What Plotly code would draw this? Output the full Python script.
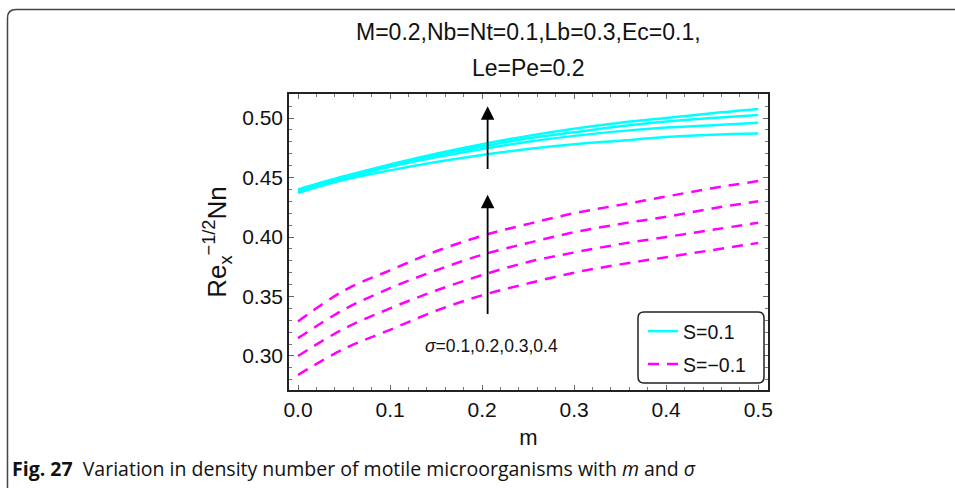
import plotly.graph_objects as go

# ---------------- data ----------------
m_values = [0.0, 0.05, 0.1, 0.15, 0.2, 0.25, 0.3, 0.35, 0.4, 0.45, 0.5]

# S = 0.1 (solid cyan), sigma = 0.1 .. 0.4
s_pos_sigma01 = [0.437, 0.448, 0.456, 0.463, 0.469, 0.474, 0.478, 0.481, 0.484, 0.486, 0.487]
s_pos_sigma02 = [0.438, 0.449, 0.459, 0.467, 0.474, 0.480, 0.485, 0.489, 0.492, 0.494, 0.496]
s_pos_sigma03 = [0.439, 0.450, 0.460, 0.469, 0.476, 0.483, 0.488, 0.493, 0.497, 0.500, 0.5025]
s_pos_sigma04 = [0.440, 0.451, 0.461, 0.470, 0.478, 0.485, 0.491, 0.496, 0.500, 0.504, 0.5075]

# S = -0.1 (dashed magenta), sigma = 0.1 .. 0.4
s_neg_sigma01 = [0.284, 0.306, 0.322, 0.338, 0.351, 0.361, 0.370, 0.377, 0.383, 0.389, 0.395]
s_neg_sigma02 = [0.300, 0.323, 0.340, 0.355, 0.368, 0.379, 0.387, 0.394, 0.400, 0.406, 0.412]
s_neg_sigma03 = [0.315, 0.339, 0.357, 0.372, 0.385, 0.395, 0.404, 0.411, 0.417, 0.424, 0.430]
s_neg_sigma04 = [0.329, 0.355, 0.372, 0.388, 0.401, 0.411, 0.420, 0.427, 0.434, 0.441, 0.447]

x_ticks = [0.0, 0.1, 0.2, 0.3, 0.4, 0.5]
y_ticks = [0.30, 0.35, 0.40, 0.45, 0.50]

series_pos = [s_pos_sigma01, s_pos_sigma02, s_pos_sigma03, s_pos_sigma04]
series_neg = [s_neg_sigma01, s_neg_sigma02, s_neg_sigma03, s_neg_sigma04]

# arrows (data coordinates) and label
arrow_m = 0.206
arrow_pos_from, arrow_pos_to = 0.456, 0.510
arrow_neg_from, arrow_neg_to = 0.334, 0.4355
sigma_label_pos = (0.2105, 0.308)

# ---------------- layout geometry ----------------
W, H = 955, 488
L, R, T, B = 289, 187, 94, 98
PW, PH = W - L - R, H - T - B

def px(x):
    return (x - L) / PW

def py(y):
    return (H - B - y) / PH

FONT = "Liberation Sans, Arial, sans-serif"
CYAN = "#00FFFF"
MAGENTA = "#FF00FF"

fig = go.Figure()

for i, ys in enumerate(series_pos):
    fig.add_trace(go.Scatter(
        x=m_values, y=ys, mode="lines", line=dict(color=CYAN, width=2.5, shape="spline"),
        name="S=0.1", legendgroup="pos", showlegend=(i == 0)))
for i, ys in enumerate(series_neg):
    fig.add_trace(go.Scatter(
        x=m_values, y=ys, mode="lines",
        line=dict(color=MAGENTA, width=2.5, shape="spline", dash="11px,8px"),
        name="S=\u22120.1", legendgroup="neg", showlegend=(i == 0)))

axis_common = dict(
    showline=True, linecolor="#222", linewidth=1.5, mirror="allticks",
    ticks="inside", ticklen=5, tickcolor="#666", tickwidth=1,
    showgrid=False, zeroline=False,
    tickfont=dict(family=FONT, size=21, color="#111"),
)

fig.update_xaxes(
    range=[-0.0098, 0.5106], tickvals=x_ticks, tickformat=".1f",
    minor=dict(dtick=0.02, tick0=0, ticks="inside", ticklen=3, tickcolor="#777"),
    title=dict(text="m", font=dict(family=FONT, size=22, color="#111"), standoff=10),
    **axis_common)
fig.update_yaxes(
    range=[0.2714, 0.5202], tickvals=y_ticks, tickformat=".2f",
    minor=dict(dtick=0.01, tick0=0, ticks="inside", ticklen=3, tickcolor="#777"),
    title=dict(text="Re<sub>x</sub><sup>\u22121/2</sup>Nn",
               font=dict(family=FONT, size=26, color="#111"), standoff=8),
    **axis_common)

annotations = [
    dict(text="M=0.2,Nb=Nt=0.1,Lb=0.3,Ec=0.1,", xref="paper", yref="paper",
         x=0.5, y=py(32), xanchor="center", yanchor="middle", showarrow=False,
         font=dict(family=FONT, size=23, color="#111")),
    dict(text="Le=Pe=0.2", xref="paper", yref="paper",
         x=0.5, y=py(68), xanchor="center", yanchor="middle", showarrow=False,
         font=dict(family=FONT, size=23, color="#111")),
    dict(x=arrow_m, y=arrow_pos_to, ax=arrow_m, ay=arrow_pos_from, xref="x", yref="y",
         axref="x", ayref="y", text="", showarrow=True, arrowhead=2, arrowsize=1.5,
         arrowwidth=1.8, arrowcolor="#000"),
    dict(x=arrow_m, y=arrow_neg_to, ax=arrow_m, ay=arrow_neg_from, xref="x", yref="y",
         axref="x", ayref="y", text="", showarrow=True, arrowhead=2, arrowsize=1.5,
         arrowwidth=1.8, arrowcolor="#000"),
    dict(text="<i>\u03c3</i>=0.1,0.2,0.3,0.4", x=sigma_label_pos[0], y=sigma_label_pos[1],
         xref="x", yref="y", showarrow=False, xanchor="center", yanchor="middle",
         font=dict(family=FONT, size=17.5, color="#111")),
    dict(text="<b>Fig. 27</b>  Variation in density number of motile microorganisms with <i>m</i> and <i>\u03c3</i>",
         xref="paper", yref="paper", x=px(10), y=py(468), xanchor="left", yanchor="middle",
         showarrow=False, font=dict(family="Open Sans, sans-serif", size=19.5, color="#111")),
]

# page frame (rounded top-left corner) and rounded legend box
frame_path = (f"M {px(7.5)},{py(488)} L {px(7.5)},{py(18)} "
              f"Q {px(7.5)},{py(9.5)} {px(16)},{py(9.5)} L {px(955)},{py(9.5)}")
lx0, lx1, ly0, ly1, rr = 638, 764, 312, 383, 6
legend_path = (f"M {px(lx0 + rr)},{py(ly0)} L {px(lx1 - rr)},{py(ly0)} "
               f"Q {px(lx1)},{py(ly0)} {px(lx1)},{py(ly0 + rr)} "
               f"L {px(lx1)},{py(ly1 - rr)} Q {px(lx1)},{py(ly1)} {px(lx1 - rr)},{py(ly1)} "
               f"L {px(lx0 + rr)},{py(ly1)} Q {px(lx0)},{py(ly1)} {px(lx0)},{py(ly1 - rr)} "
               f"L {px(lx0)},{py(ly0 + rr)} Q {px(lx0)},{py(ly0)} {px(lx0 + rr)},{py(ly0)} Z")
shapes = [
    dict(type="path", path=frame_path, xref="paper", yref="paper",
         line=dict(color="#444", width=1.5), layer="above"),
    dict(type="path", path=legend_path, xref="paper", yref="paper",
         line=dict(color="#222", width=1.5), fillcolor="white", layer="above"),
]

fig.update_layout(
    width=W, height=H, margin=dict(l=L, r=R, t=T, b=B),
    paper_bgcolor="white", plot_bgcolor="white",
    annotations=annotations, shapes=shapes,
    legend=dict(x=px(lx0 + 5), y=py(ly0), xanchor="left", yanchor="top",
                bgcolor="rgba(0,0,0,0)", borderwidth=0,
                font=dict(family=FONT, size=19.5, color="#111"),
                itemwidth=30, tracegroupgap=4.5),
    showlegend=True,
)

fig.write_html("out.html", config={"displayModeBar": False},
               post_script="document.body.style.margin='0';document.body.style.overflow='hidden';")
